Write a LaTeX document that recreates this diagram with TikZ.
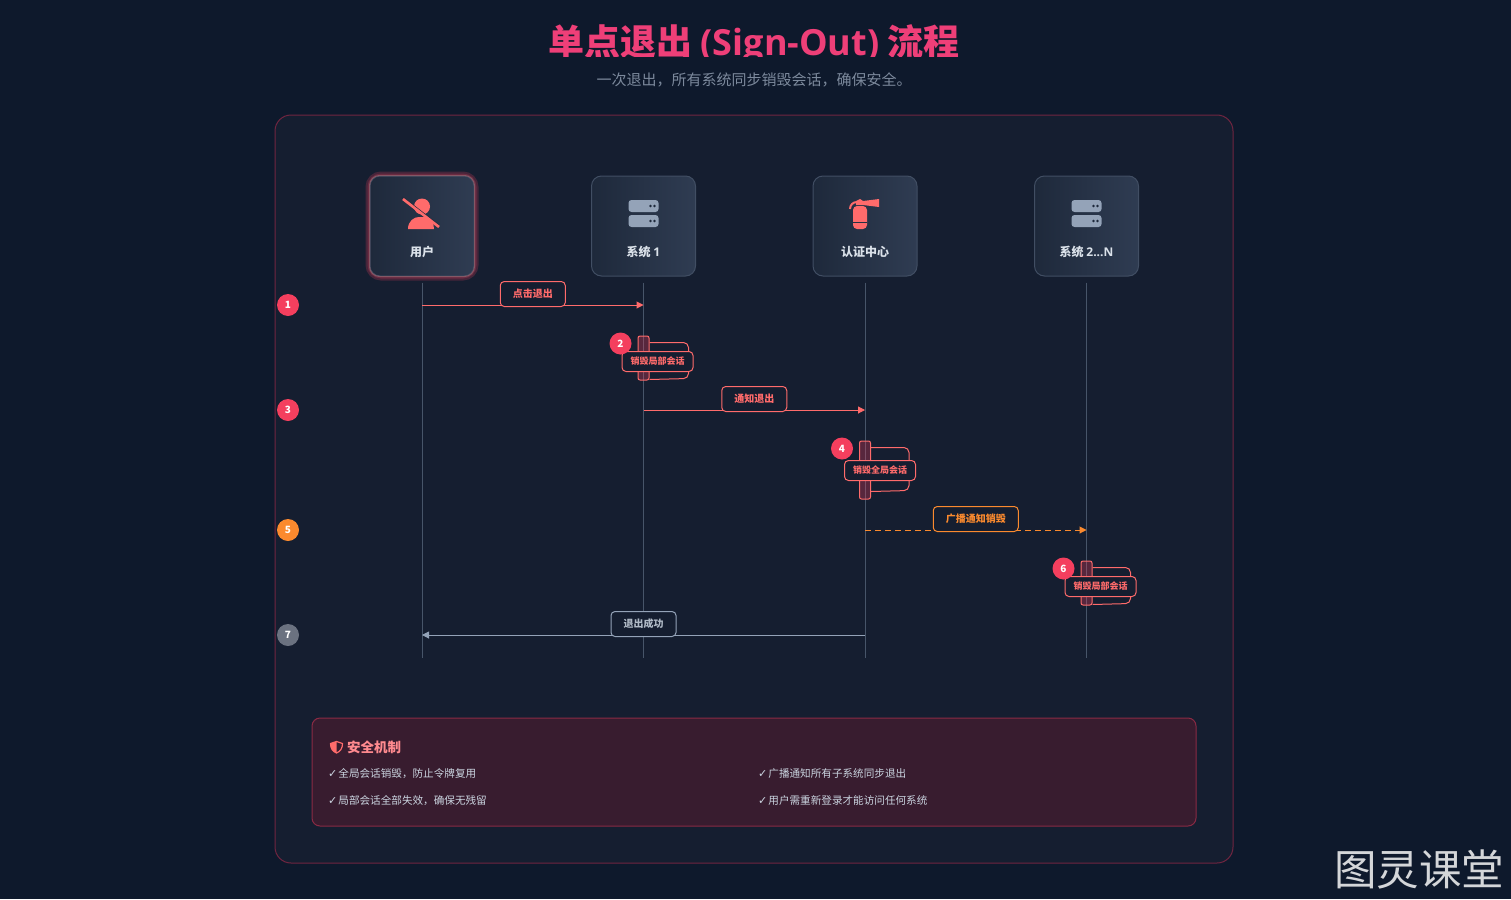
\documentclass[tikz,border=0pt]{standalone}
\usepackage{xcolor}
\usepackage{fontspec}
\usepackage{tikz}
\usetikzlibrary{
  arrows.meta,
  positioning,
  calc
}
\setmainfont{Noto Sans CJK SC}
\newfontfamily\latinfont{Open Sans}
\newfontfamily\symfont{DejaVu Sans}
\newcommand{\px}[1]{\fontsize{#1}{#1}\selectfont}
\newcommand{\tick}{{\symfont\px{11}✓}\hspace{1pt}}
\definecolor{ssoBg}{HTML}{0E192C}
\definecolor{ssoPanel}{HTML}{151E30}
\definecolor{ssoEdge}{HTML}{702540}
\definecolor{ssoTitle}{HTML}{EE3F78}
\definecolor{ssoSub}{HTML}{7C899C}
\definecolor{ssoRed}{HTML}{FF6B6B}
\definecolor{ssoBadge}{HTML}{F43F5E}
\definecolor{ssoOrange}{HTML}{FB8A2E}
\definecolor{ssoGrey}{HTML}{6B7280}
\definecolor{ssoSlate}{HTML}{94A3B8}
\definecolor{ssoLine}{HTML}{475569}
\definecolor{ssoText}{HTML}{CBD5E1}
\definecolor{ssoBoxA}{HTML}{1E293B}
\definecolor{ssoBoxB}{HTML}{2F3C52}
\definecolor{ssoBoxEdge}{HTML}{414E63}
\definecolor{ssoNote}{HTML}{381C2F}
\definecolor{ssoNoteEdge}{HTML}{8A2A44}
\definecolor{ssoNoteHead}{HTML}{FF8A8F}
\tikzset{
  panel/.style={draw=ssoEdge, fill=ssoPanel, rounded corners=16pt, line width=1pt},
  notebox/.style={draw=ssoNoteEdge, fill=ssoNote, rounded corners=8pt, line width=1pt},
  actor/.style={
    draw=ssoBoxEdge, rounded corners=10pt, minimum width=104pt, minimum height=100pt,
    line width=1pt, shading angle=135, left color=ssoBoxA, right color=ssoBoxB
  },
  actorname/.style={font=\px{12}\bfseries, text=ssoText!70!white, inner sep=0pt},
  glow/.style={draw=ssoBadge, rounded corners=11pt, line width=#1, opacity=.22},
  lifeline/.style={ssoLine, line width=1pt},
  msgred/.style={-{Triangle[length=7pt, width=7pt]}, ssoRed, line width=1pt},
  msgorange/.style={-{Triangle[length=7pt, width=7pt]}, ssoOrange, line width=1pt, dash pattern=on 6pt off 4pt},
  msggrey/.style={-{Triangle[length=7pt, width=7pt]}, ssoSlate, line width=1pt},
  msgtag/.style={
    solid, draw=ssoRed, fill=ssoPanel, rounded corners=4pt, line width=1pt, minimum height=25pt,
    text=ssoRed, font=\px{10}\bfseries, inner sep=0pt, minimum width=65pt
  },
  looptag/.style={msgtag, minimum width=71pt, minimum height=20pt, font=\px{9}\bfseries},
  activation/.style={
    draw=ssoRed, fill=ssoBadge, fill opacity=.3, rounded corners=2pt, line width=1pt,
    minimum width=11pt, inner sep=0pt
  },
  selfloop/.style={ssoRed, line width=1pt, rounded corners=5pt},
  badge/.style={
    circle, fill=ssoBadge, text=white, minimum size=22pt, inner sep=0pt,
    font=\px{10}\bfseries
  },
  noteitem/.style={text=ssoText, font=\px{10.6}, inner sep=0pt, anchor=west, text height=9pt, text depth=2pt},
  servericon/.pic={
    \fill[ssoSlate, rounded corners=3pt] (-15,-14) rectangle (15,-2);
    \fill[ssoSlate, rounded corners=3pt] (-15,1) rectangle (15,13);
    \fill[ssoBoxA] (7,-8) circle (1.4) (11,-8) circle (1.4) (7,7) circle (1.4) (11,7) circle (1.4);
  },
  usericon/.pic={
    \fill[ssoRed] (0,-7.5) circle (8);
    \fill[ssoRed] (-14,15) .. controls (-14,7) and (-8,3) .. (-3,3) -- (4,3)
      .. controls (8,3) and (12,8) .. (12,15) -- cycle;
    \draw[ssoBoxA!80!ssoBoxB, line width=2pt] (-20,-17) -- (16,11);
    \draw[ssoRed, line width=2.6pt] (-19,-15) -- (17,13);
  },
  extinguishericon/.pic={
    \fill[ssoRed, rounded corners=4pt] (-12,-8) rectangle (2,15);
    \fill[ssoRed] (-9,-13) -- (-5,-15) -- (-2,-13) -- (14,-15) -- (14,-7) -- (-2,-9) -- (-9,-9) -- cycle;
    \draw[ssoRed, line width=2pt] (-15,-5) .. controls (-15,-9) and (-12,-12) .. (-8,-12);
    \draw[ssoBoxA!60!ssoBoxB, line width=1pt] (-12,8) -- (2,8);
  }
}

\begin{document}
\begin{tikzpicture}[x=1pt, y=-1pt, node distance=116.5pt]
  \fill[ssoBg] (0,0) rectangle (1511,899);
  \useasboundingbox (0,0) rectangle (1511,899);

  % heading, its lower edge is cut off
  \begin{scope}
    \clip (400,10) rectangle (1100,57);
    \node[text=ssoTitle, font=\px{36}\bfseries, inner sep=0pt] (title) at (754,44) {单点退出 {\latinfont (Sign-Out)} 流程};
  \end{scope}
  \node[text=ssoSub, font=\px{15}, inner sep=0pt] (subtitle) at (754,80) {一次退出，所有系统同步销毁会话，确保安全。};

  \draw[panel] (275,115) rectangle (1233,863);

  % actors
  \draw[glow=9pt] (370,176) rectangle (474,276);
  \draw[glow=5pt] (370,176) rectangle (474,276);
  \node[actor] (user) at (422,226) {};
  \node[actor, right=of user] (sysa) {};
  \node[actor, right=of sysa] (auth) {};
  \node[actor, right=of auth] (sysn) {};
  \draw[ssoRed!35!ssoBoxEdge, rounded corners=10pt, line width=1pt] (user.north west) rectangle (user.south east);

  \pic at ([yshift=12pt]user.center) {usericon};
  \pic at ([yshift=12pt]sysa.center) {servericon};
  \pic at ([yshift=12pt]auth.center) {extinguishericon};
  \pic at ([yshift=12pt]sysn.center) {servericon};

  \node[actorname] (userlbl) at ([yshift=-26pt]user.center) {用户};
  \node[actorname] (sysalbl) at ([yshift=-26pt]sysa.center) {系统 {\latinfont 1}};
  \node[actorname] (authlbl) at ([yshift=-26pt]auth.center) {认证中心};
  \node[actorname] (sysnlbl) at ([yshift=-26pt]sysn.center) {系统 {\latinfont 2...N}};

  % lifelines
  \draw[lifeline] ([yshift=-6pt]user.south) -- ([yshift=-381pt]user.south);
  \draw[lifeline] ([yshift=-6pt]sysa.south) -- ([yshift=-381pt]sysa.south);
  \draw[lifeline] ([yshift=-6pt]auth.south) -- ([yshift=-381pt]auth.south);
  \draw[lifeline] ([yshift=-6pt]sysn.south) -- ([yshift=-381pt]sysn.south);

  % step rows
  \node[badge] (step1) at (288,305) {1};
  \node[badge] (step3) at (288,410) {3};
  \node[badge, fill=ssoOrange] (step5) at (288,530) {5};
  \node[badge, fill=ssoGrey] (step7) at (288,635) {7};

  % messages
  \draw[msgred] (user |- step1) -- node[msgtag, yshift=11pt] (tag1) {点击退出} (sysa |- step1);
  \draw[msgred] (sysa |- step3) -- node[msgtag, yshift=11pt] (tag3) {通知退出} (auth |- step3);
  \draw[msgorange] (auth |- step5) -- node[msgtag, yshift=11pt, draw=ssoOrange, text=ssoOrange, minimum width=85pt] (tag5) {广播通知销毁} (sysn |- step5);
  \draw[msggrey] (auth |- step7) -- node[msgtag, yshift=11pt, draw=ssoSlate, text=ssoText!85!ssoPanel] (tag7) {退出成功} (user |- step7);

  % self calls
  \node[activation, minimum height=44pt] (act2) at (sysa |- 0,358) {};
  \draw[selfloop] ([yshift=-7pt]act2.north east) -- ++(39,0) -- ++(0,36) -- ([yshift=1pt]act2.south east);
  \node[looptag] (tag2) at ([xshift=14pt,yshift=-26pt]act2.north) {销毁局部会话};
  \node[badge] (step2) at ([xshift=-23pt,yshift=-8pt]act2.north) {2};

  \node[activation, minimum height=58pt] (act4) at (auth |- 0,470) {};
  \draw[selfloop] ([yshift=-7pt]act4.north east) -- ++(38,0) -- ++(0,43) -- ([yshift=8pt]act4.south east);
  \node[looptag] (tag4) at ([xshift=15pt,yshift=-30pt]act4.north) {销毁全局会话};
  \node[badge] (step4) at ([xshift=-23pt,yshift=-8pt]act4.north) {4};

  \node[activation, minimum height=44pt] (act6) at (sysn |- 0,583) {};
  \draw[selfloop] ([yshift=-7pt]act6.north east) -- ++(38,0) -- ++(0,36) -- ([yshift=1pt]act6.south east);
  \node[looptag] (tag6) at ([xshift=14pt,yshift=-26pt]act6.north) {销毁局部会话};
  \node[badge] (step6) at ([xshift=-23pt,yshift=-8pt]act6.north) {6};

  % security note
  \draw[notebox] (312,718) rectangle (1196,826);
  \draw[ssoRed, line width=1.2pt, line join=round] (336.5,741.5) -- (342.5,743.5)
    .. controls (342.5,748) and (340.5,751.5) .. (336.5,753)
    .. controls (332.5,751.5) and (330.5,748) .. (330.5,743.5) -- cycle;
  \fill[ssoRed] (336.5,741.5) -- (330.5,743.5)
    .. controls (330.5,748) and (332.5,751.5) .. (336.5,753) -- cycle;
  \node[text=ssoNoteHead, font=\px{13.5}\bfseries, inner sep=0pt, anchor=west] (notehead) at (347,747.5) {安全机制};
  \node[noteitem] (item1) at (328,774) {\tick 全局会话销毁，防止令牌复用};
  \node[noteitem] (item2) at (328,801) {\tick 局部会话全部失效，确保无残留};
  \node[noteitem] (item3) at (758,774) {\tick 广播通知所有子系统同步退出};
  \node[noteitem] (item4) at (758,801) {\tick 用户需重新登录才能访问任何系统};

  \node[text=white!82!ssoBg, font=\px{42.5}, inner sep=0pt] (mark) at (1419,869) {图灵课堂};
\end{tikzpicture}
\end{document}
